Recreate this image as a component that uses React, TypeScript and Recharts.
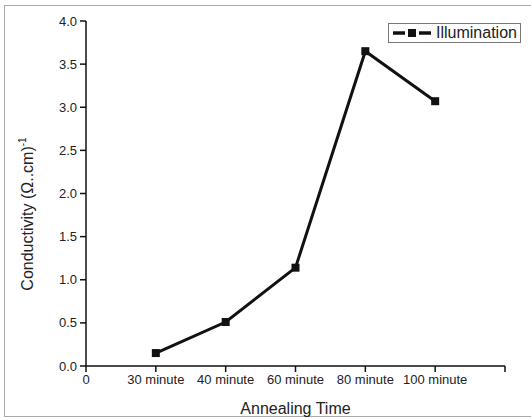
import { Label, Legend, Line, LineChart, XAxis, YAxis } from "recharts";

const categories = ["30 minute", "40 minute", "60 minute", "80 minute", "100 minute"];
const conductivity = [0.15, 0.51, 1.14, 3.65, 3.07];
const xTickLabels = ["0", ...categories, ""];
const yTicks = [0, 0.5, 1, 1.5, 2, 2.5, 3, 3.5, 4];

const data = categories.map((name, i) => ({ pos: i + 1, name, value: conductivity[i] }));

const font = "'Liberation Sans', Arial, sans-serif";
const ink = "#222";

function SquareDot(props: any) {
  const { cx, cy } = props;
  if (cx == null || cy == null) return null;
  return <rect x={cx - 4} y={cy - 4} width={8} height={8} fill="#111" />;
}

function LegendBox() {
  return (
    <div
      style={{
        border: "1px solid #777",
        background: "#fff",
        display: "flex",
        alignItems: "center",
        padding: "0 3px 0 3px",
        height: 18,
        fontFamily: font,
        fontSize: 16,
        color: ink,
        whiteSpace: "nowrap",
      }}
    >
      <svg width={40} height={12} style={{ marginRight: 4 }}>
        <line x1={1} y1={6} x2={13} y2={6} stroke="#111" strokeWidth={3.5} />
        <rect x={16} y={2} width={8} height={8} fill="#111" />
        <line x1={27} y1={6} x2={39} y2={6} stroke="#111" strokeWidth={3.5} />
      </svg>
      Illumination
    </div>
  );
}

export default function App() {
  return (
    <div style={{ position: "absolute", left: 0, top: 0, width: 531, height: 419, background: "#fff" }}>
      <div
        style={{
          position: "absolute",
          left: 4,
          top: 5,
          width: 527,
          height: 410,
          borderTop: "1px solid #aaa",
          borderLeft: "1px solid #aaa",
          borderBottom: "1px solid #aaa",
        }}
      />
      <LineChart
        width={531}
        height={419}
        data={data}
        margin={{ top: 21, right: 26, left: 0, bottom: 0 }}
        style={{ position: "absolute", left: 0, top: 0 }}
      >
        <XAxis
          type="number"
          dataKey="pos"
          domain={[0, 6]}
          ticks={[0, 1, 2, 3, 4, 5, 6]}
          tickFormatter={(v: number) => xTickLabels[v]}
          height={53}
          stroke="#111"
          strokeWidth={1.5}
          tickSize={6}
          tickMargin={3}
          tick={{ fill: ink, fontSize: 13, fontFamily: font }}
        >
          <Label
            value="Annealing Time"
            position="insideBottom"
            offset={5}
            style={{ fill: ink, fontSize: 16, fontFamily: font }}
          />
        </XAxis>
        <YAxis
          type="number"
          domain={[0, 4]}
          ticks={yTicks}
          tickFormatter={(v: number) => v.toFixed(1)}
          width={86}
          stroke="#111"
          strokeWidth={1.5}
          tickSize={6}
          tickMargin={3}
          tick={{ fill: ink, fontSize: 13, fontFamily: font }}
        >
          <Label
            content={() => (
              <text
                x={33}
                y={214}
                transform="rotate(-90 33 214)"
                textAnchor="middle"
                fill={ink}
                fontSize={16}
                fontFamily={font}
              >
                Conductivity (Ω..cm)
                <tspan dy={-7} fontSize={10}>-1</tspan>
              </text>
            )}
          />
        </YAxis>
        <Legend
          layout="horizontal"
          verticalAlign="middle"
          align="center"
          content={() => <LegendBox />}
          wrapperStyle={{ top: 23, left: 388, width: "auto" }}
        />
        <Line
          type="linear"
          dataKey="value"
          stroke="#111"
          strokeWidth={3}
          dot={<SquareDot />}
          activeDot={false}
          isAnimationActive={false}
        />
      </LineChart>
    </div>
  );
}
